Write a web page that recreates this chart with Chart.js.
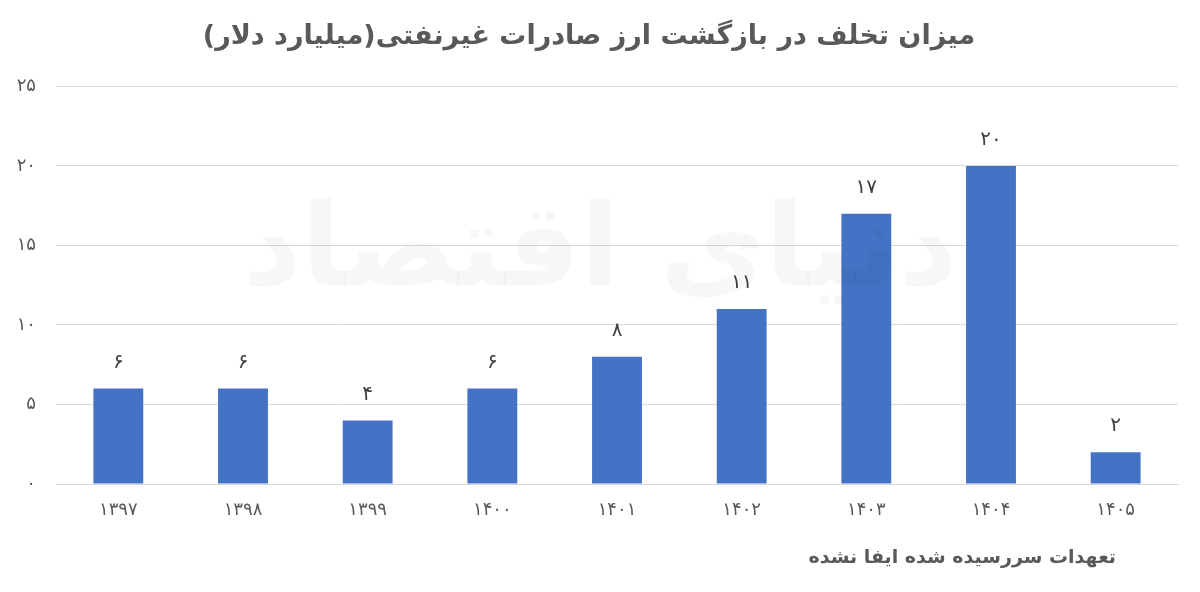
<!DOCTYPE html>
<html lang="fa">
<head>
<meta charset="UTF-8">
<title>میزان تخلف در بازگشت ارز صادرات غیرنفتی</title>
<style>
  html, body { margin: 0; padding: 0; background: #fff; }
  #wrap { width: 1200px; height: 592px; }
</style>
</head>
<body>
<div id="wrap"><canvas id="myChart" width="1200" height="592"></canvas></div>

<script src="https://cdn.jsdelivr.net/npm/chart.js@4/dist/chart.umd.min.js"></script>
<script>
// data
var years = ['۱۳۹۷', '۱۳۹۸', '۱۳۹۹', '۱۴۰۰', '۱۴۰۱', '۱۴۰۲', '۱۴۰۳', '۱۴۰۴', '۱۴۰۵'];
var unpaid = [6, 6, 4, 6, 8, 11, 17, 20, 2];
var yTicks = [0, 5, 10, 15, 20, 25];

var titleText = 'میزان تخلف در بازگشت ارز صادرات غیرنفتی(میلیارد دلار)';
var xTitleText = 'تعهدات سررسیده شده ایفا نشده';
var watermarkText = 'دنیای اقتصاد';

var FONT = '"DejaVu Sans", "Noto Sans", sans-serif';

function toFa(n) {
    var d = '۰۱۲۳۴۵۶۷۸۹';
    return String(n).replace(/[0-9]/g, function (c) { return d[+c]; });
}

// value labels above bars + axis caption + faint watermark
var extras = {
    id: 'extras',
    afterDatasetsDraw: function (chart) {
        var ctx = chart.ctx;
        var meta = chart.getDatasetMeta(0);
        ctx.save();
        ctx.fillStyle = '#404040';
        ctx.font = '20px ' + FONT;
        ctx.textAlign = 'center';
        ctx.textBaseline = 'middle';
        meta.data.forEach(function (bar, i) {
            ctx.fillText(toFa(unpaid[i]), bar.x, bar.y - 26);
        });

        // watermark
        ctx.fillStyle = 'rgba(0,0,0,0.03)';
        ctx.font = 'bold 115px ' + FONT;
        ctx.fillText(watermarkText, 600, 255);

        // axis caption
        ctx.fillStyle = '#595959';
        ctx.font = 'bold 19px ' + FONT;
        ctx.textAlign = 'right';
        ctx.fillText(xTitleText, 1116, 558);
        ctx.restore();
    }
};

var ctx = document.getElementById('myChart').getContext('2d');
var barChart = new Chart(ctx, {
    type: 'bar',
    data: {
        labels: years,
        datasets: [{
            data: unpaid,
            backgroundColor: '#4472C4',
            borderWidth: 0,
            barPercentage: 0.4,
            categoryPercentage: 1.0
        }]
    },
    options: {
        responsive: false,
        animation: false,
        layout: { padding: { left: 0, right: 22, top: 0, bottom: 0 } },
        plugins: {
            legend: { display: false },
            tooltip: { enabled: false },
            title: {
                display: true,
                text: titleText,
                color: '#595959',
                font: { family: FONT, size: 27, weight: 'bold' },
                padding: { top: 21, bottom: 33 }
            }
        },
        scales: {
            x: {
                grid: { display: false, drawTicks: false },
                border: { color: '#d9d9d9', width: 1 },
                ticks: {
                    color: '#595959',
                    font: { family: FONT, size: 18 },
                    padding: 16
                },
                afterFit: function (s) { s.height = 108; }
            },
            y: {
                min: 0,
                max: 25,
                afterBuildTicks: function (s) {
                    s.ticks = yTicks.map(function (v) { return { value: v }; });
                },
                grid: { color: '#d9d9d9', drawTicks: false },
                border: { display: false },
                ticks: {
                    color: '#595959',
                    font: { family: FONT, size: 18 },
                    padding: 20,
                    callback: function (v) { return toFa(v); }
                },
                afterFit: function (s) { s.width = 56; }
            }
        }
    },
    plugins: [extras]
});
</script>
</body>
</html>
